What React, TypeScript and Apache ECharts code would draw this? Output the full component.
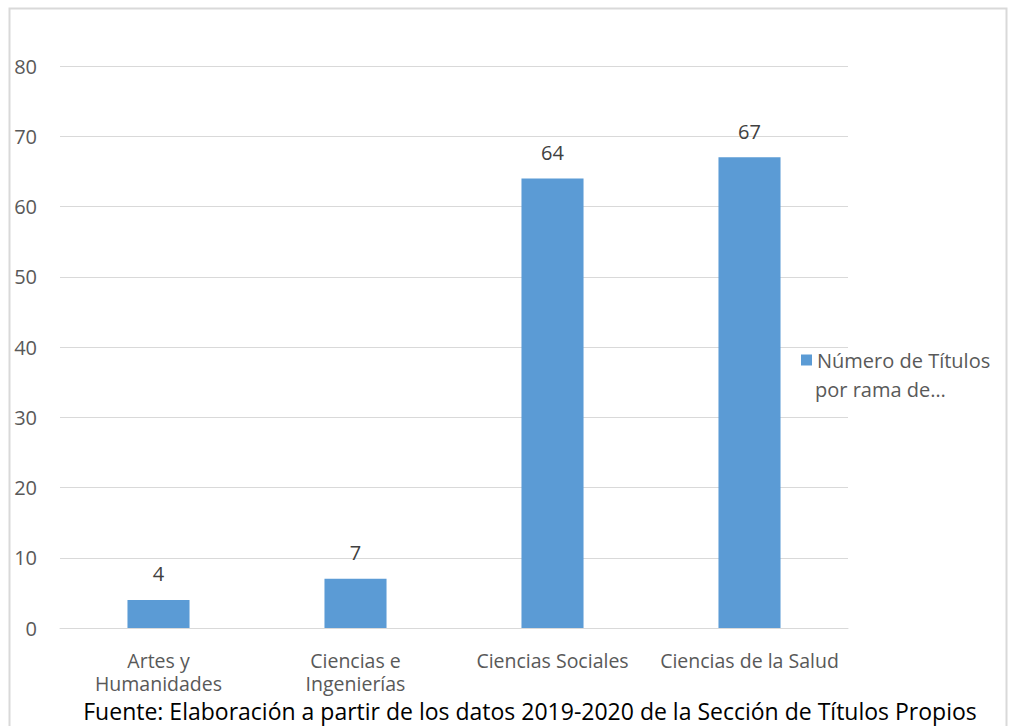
import React, { useEffect, useRef } from "react";
import * as echarts from "echarts";

const categories = ["Artes y\nHumanidades", "Ciencias e\nIngenierías", "Ciencias Sociales", "Ciencias de la Salud"];
const values = [4, 7, 64, 67];
const seriesName = "Número de Títulos";
const legendLine2 = "por rama de…";
const footer = "Fuente: Elaboración a partir de los datos 2019-2020 de la Sección de Títulos Propios";
const FONT = "Open Sans";

export default function App() {
  const ref = useRef<HTMLDivElement>(null);
  useEffect(() => {
    document.body.style.margin = "0";
    const chart = echarts.init(ref.current!, null, { renderer: "svg" });
    chart.setOption({
      animation: false,
      backgroundColor: "#ffffff",
      textStyle: { fontFamily: FONT },
      grid: { left: 60, right: 164, top: 66, bottom: 98, containLabel: false },
      xAxis: {
        type: "category",
        data: categories,
        axisLine: { lineStyle: { color: "#d9d9d9", width: 1 } },
        axisTick: { show: false },
        axisLabel: { color: "#595959", fontSize: 19.5, fontFamily: FONT, margin: 21, lineHeight: 23, interval: 0 },
      },
      yAxis: {
        type: "value",
        min: 0,
        max: 80,
        interval: 10,
        axisLine: { show: false },
        axisTick: { show: false },
        splitLine: { lineStyle: { color: "#d9d9d9", width: 1 } },
        axisLabel: { color: "#595959", fontSize: 20, fontFamily: FONT, margin: 23 },
      },
      legend: {
        orient: "vertical",
        left: 796,
        top: 345,
        icon: "rect",
        itemWidth: 11,
        itemHeight: 11,
        itemGap: 6,
        textStyle: { color: "#595959", fontSize: 20, fontFamily: FONT },
        data: [seriesName],
      },
      series: [
        {
          name: seriesName,
          type: "bar",
          data: values,
          barWidth: "31.5%",
          itemStyle: { color: "#5b9bd5" },
          label: { show: true, position: "top", distance: 16, color: "#404040", fontSize: 20, fontFamily: FONT },
        },
      ],
      graphic: [
        {
          type: "rect",
          shape: { x: 9.5, y: 8.5, width: 997, height: 740 },
          style: { fill: "none", stroke: "#d9d9d9", lineWidth: 2 },
          silent: true,
          z: -1,
        },
        {
          type: "text",
          x: 815,
          y: 389,
          style: { text: legendLine2, fill: "#595959", fontSize: 20, fontFamily: FONT, textVerticalAlign: "middle" },
        },
        {
          type: "text",
          x: 530,
          y: 711,
          style: { text: footer, fill: "#000000", fontSize: 23, fontFamily: FONT, textAlign: "center", textVerticalAlign: "middle" },
        },
      ],
    });
    return () => chart.dispose();
  }, []);
  return <div ref={ref} style={{ width: 1012, height: 726 }} />;
}
